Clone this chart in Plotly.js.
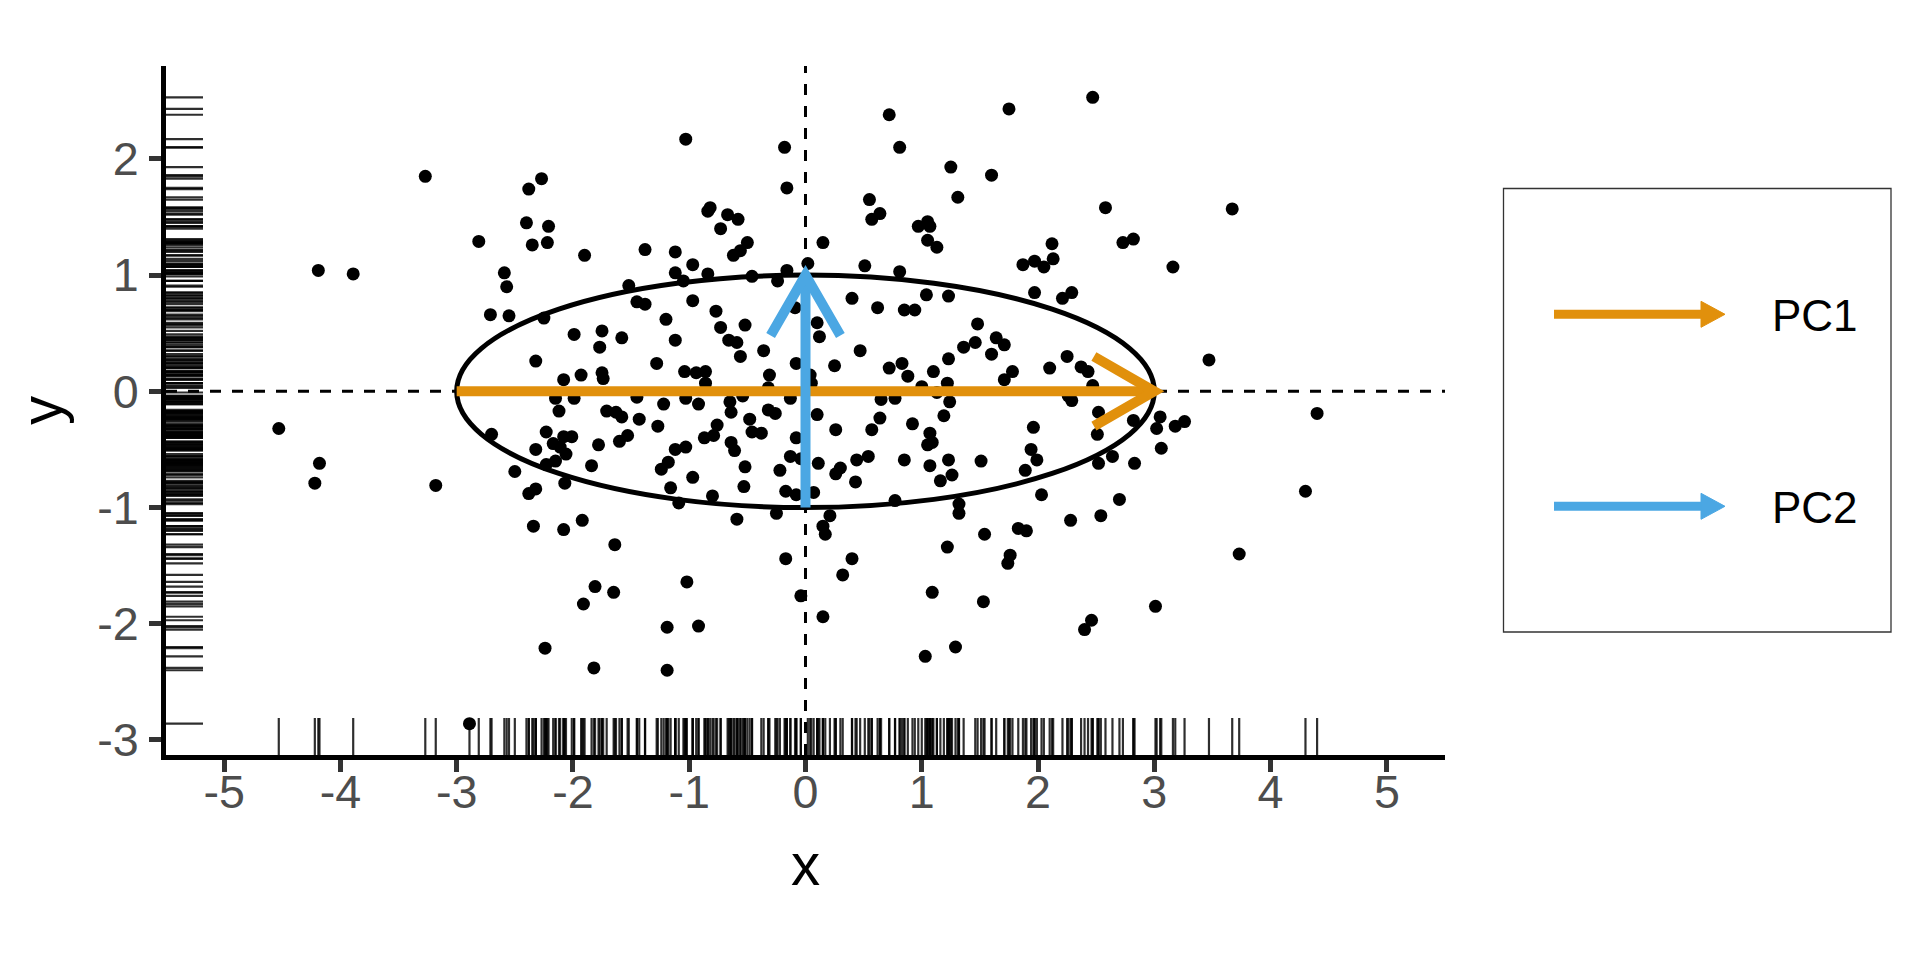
<!DOCTYPE html>
<html>
<head>
<meta charset="utf-8">
<script src="https://cdn.plot.ly/plotly-3.0.1.min.js"></script>
<style>
html,body{margin:0;padding:0;background:#ffffff;}
#chart{width:1920px;height:960px;}
</style>
</head>
<body>
<div id="chart"></div>
<script>
// ---------- data ----------
const pointX = [
  -2.81,-2.35,-2.22,-1.90,-1.38,-1.12,-0.50,-0.56,-0.62,-2.59,
  -2.57,-0.97,-1.12,-0.84,-1.05,-0.46,-0.16,-0.24,0.02,-1.52,
  -1.45,-1.38,-0.97,-2.71,-2.55,-2.25,-1.20,-0.77,-0.09,-0.73,
  -0.52,-1.99,-1.75,-1.58,-1.77,-1.12,-0.66,-0.59,0.10,0.12,
  -0.36,-0.56,-2.32,-1.28,-0.08,-2.08,-1.93,-1.75,-1.74,-1.04,
  -0.94,-0.86,-0.86,-0.31,0.04,0.05,-0.32,-2.15,-1.99,-1.45,
  -1.22,-1.03,-0.92,-0.65,-0.54,-0.13,-2.12,-1.71,-1.63,-1.58,
  -1.43,-1.27,-0.64,-0.48,-0.32,-0.26,0.10,-2.70,-2.23,-2.08,
  -2.01,-2.17,-2.11,-2.32,-2.06,-1.78,-1.60,-1.53,-0.87,-0.79,
  -0.76,-0.64,-0.61,-0.46,-0.38,-0.08,-1.12,-1.03,-0.13,-0.04,
  0.11,-2.50,-2.23,-2.15,-1.84,-1.24,-1.18,-0.52,-0.22,-0.97,
  -3.18,-2.38,-2.32,-2.07,-1.16,-0.53,-0.17,0.07,-0.08,-0.80,
  -1.09,-0.25,-0.59,0.15,0.17,-2.34,-2.08,-1.92,-1.64,-0.17,
  0.15,1.05,1.13,0.51,0.81,1.87,1.97,2.05,2.13,2.12,
  2.73,2.82,3.16,0.40,0.62,0.85,0.94,1.04,1.23,1.97,
  2.21,2.29,1.48,1.64,1.71,1.46,1.36,1.60,0.47,0.25,
  0.72,0.83,0.88,1.10,1.23,1.22,1.00,1.13,0.65,0.77,
  1.24,1.78,1.71,2.10,2.25,2.37,2.43,2.47,2.26,2.29,
  3.47,0.26,0.64,0.57,0.92,1.19,1.07,1.09,1.05,1.96,
  2.52,2.51,2.82,3.05,3.02,3.18,3.26,3.06,0.26,0.30,
  0.44,0.54,0.43,0.85,1.07,1.23,1.26,1.16,1.51,1.94,
  1.99,1.89,2.52,2.64,2.83,2.03,2.70,0.77,1.32,1.32,
  0.21,2.28,2.54,1.54,1.83,1.90,1.22,0.40,1.76,1.74,
  -1.03,-0.18,-0.16,0.72,0.81,1.25,1.60,1.31,1.75,0.55,
  0.64,0.57,-0.84,-0.82,-0.67,-0.58,-0.73,0.97,1.05,1.07,
  -3.27,-2.27,-2.38,-2.40,-2.21,-4.19,-3.89,2.47,2.58,3.67,
  -4.53,-4.18,-4.22,-1.91,-2.24,-1.82,-2.89,-1.81,-1.65,-1.02,
  -1.19,-0.92,-1.19,-0.04,0.15,0.32,1.09,1.53,1.29,1.03,
  4.40,4.30,3.73,3.01,2.46,2.40
];
const pointY = [
  1.29,1.26,1.28,1.17,1.22,1.20,1.28,1.21,1.17,1.02,
  0.90,1.09,1.02,1.01,0.95,0.99,1.04,0.95,1.10,0.91,
  0.77,0.75,0.78,0.66,0.65,0.63,0.62,0.69,0.72,0.55,
  0.57,0.49,0.52,0.46,0.38,0.44,0.44,0.42,0.59,0.47,
  0.35,0.30,0.26,0.24,0.24,0.10,0.14,0.16,0.11,0.17,
  0.16,0.17,0.07,0.14,0.14,0.07,0.03,-0.06,-0.06,-0.05,
  -0.11,-0.06,-0.11,-0.09,-0.04,-0.06,-0.17,-0.17,-0.18,-0.22,
  -0.24,-0.30,-0.18,-0.24,-0.16,-0.19,-0.20,-0.37,-0.35,-0.39,
  -0.39,-0.45,-0.48,-0.50,-0.54,-0.46,-0.43,-0.38,-0.40,-0.38,
  -0.29,-0.44,-0.51,-0.35,-0.36,-0.40,-0.50,-0.48,-0.56,-0.58,
  -0.62,-0.69,-0.63,-0.60,-0.64,-0.67,-0.61,-0.65,-0.68,-0.74,
  -0.81,-0.88,-0.84,-0.79,-0.83,-0.82,-0.86,-0.87,-0.89,-0.90,
  -0.96,-1.05,-1.10,-1.16,-1.23,-1.16,-1.19,-1.11,-1.32,-1.44,
  1.28,1.30,1.24,1.08,1.03,1.09,1.12,1.07,1.14,1.27,
  1.28,1.31,1.07,0.80,0.72,0.70,0.70,0.83,0.82,0.85,
  0.80,0.85,0.58,0.46,0.40,0.42,0.38,0.32,0.35,0.22,
  0.20,0.24,0.13,0.17,0.28,0.07,0.04,-0.01,-0.07,-0.06,
  -0.09,0.17,0.10,0.20,0.30,0.21,0.17,0.05,-0.04,-0.08,
  0.27,-0.33,-0.23,-0.33,-0.28,-0.21,-0.36,-0.44,-0.46,-0.31,
  -0.18,-0.37,-0.25,-0.22,-0.32,-0.30,-0.26,-0.49,-0.71,-0.66,
  -0.59,-0.56,-0.78,-0.59,-0.64,-0.59,-0.72,-0.77,-0.60,-0.50,
  -0.59,-0.68,-0.62,-0.56,-0.62,-0.89,-0.93,-0.94,-0.97,-1.05,
  -1.07,-1.11,-1.07,-1.23,-1.18,-1.20,-1.34,-1.44,-1.41,-1.48,
  2.17,2.10,1.75,2.38,2.10,1.93,1.86,1.67,2.43,1.65,
  1.53,1.48,1.55,1.58,1.52,1.48,1.40,1.42,1.46,1.42,
  1.85,1.83,1.74,1.45,1.42,1.04,1.01,2.53,1.58,1.57,
  -0.32,-0.62,-0.79,-1.83,-2.21,-2.38,-2.86,-1.68,-1.73,-1.64,
  -2.03,-2.02,-2.40,-1.76,-1.94,-1.58,-1.73,-1.81,-2.20,-2.28,
  -0.19,-0.86,-1.40,-1.85,-1.97,-2.05
];

const pcNames  = ['PC1', 'PC2'];
const pcStartX = [-3, 0];
const pcStartY = [0, -1];
const pcEndX   = [3, 0];
const pcEndY   = [0, 1];

const xLimits   = [-5, 5];
const xTickVals = [-5, -4, -3, -2, -1, 0, 1, 2, 3, 4, 5];
const xTickText = ['-5', '-4', '-3', '-2', '-1', '0', '1', '2', '3', '4', '5'];
const yTickVals = [-3, -2, -1, 0, 1, 2];
const yTickText = ['-3', '-2', '-1', '0', '1', '2'];

// ---------- styles ----------
const pcColors = ['#E1900C', '#4BA7E3'];
const FONT = 'Liberation Sans, Arial, Helvetica, sans-serif';
const W = 1920, H = 960;
const M = {l: 166, r: 475, t: 66, b: 205};
const plotW = W - M.l - M.r, plotH = H - M.t - M.b;
const fx = X => (X - M.l) / plotW;          // pixel -> paper (x)
const fy = Y => (H - M.b - Y) / plotH;      // pixel -> paper (y)

const expand = (lo, hi) => { const d = (hi - lo) * 0.05; return [lo - d, hi + d]; };
const xRange = expand(xLimits[0], xLimits[1]);
const yRange = expand(Math.min(...pointY), Math.max(...pointY));

// rugs (one polyline trace each, with null breaks)
const rugLen = 37;
const rugFx = rugLen / plotW, rugFy = rugLen / plotH;
const bx = [], by = [], lx = [], ly = [];
pointX.forEach(v => { bx.push(v, v, null); by.push(0, rugFy, null); });
pointY.forEach(v => { ly.push(v, v, null); lx.push(0, rugFx, null); });

const rugStyle = {color: 'rgba(0,0,0,0.82)', width: 2.2};
const traces = [
  {type: 'scatter', mode: 'markers', x: pointX, y: pointY, xaxis: 'x', yaxis: 'y',
   marker: {color: '#000000', size: 13, line: {width: 0}}, showlegend: false, hoverinfo: 'x+y'},
  {type: 'scatter', mode: 'lines', x: bx, y: by, xaxis: 'x', yaxis: 'y2',
   line: rugStyle, showlegend: false, hoverinfo: 'skip', connectgaps: false},
  {type: 'scatter', mode: 'lines', x: lx, y: ly, xaxis: 'x2', yaxis: 'y',
   line: rugStyle, showlegend: false, hoverinfo: 'skip', connectgaps: false}
];

// ---------- shapes ----------
const shapes = [];
const dashLine = {color: '#000000', width: 3, dash: '11px,11px'};
shapes.push({type: 'line', layer: 'below', xref: 'paper', yref: 'y', x0: 0, x1: 1, y0: 0, y1: 0, line: dashLine});
shapes.push({type: 'line', layer: 'below', xref: 'x', yref: 'paper', x0: 0, x1: 0, y0: 0, y1: 1, line: dashLine});

// ellipse spanned by the two PC vectors
const semiA = Math.hypot(pcEndX[0], pcEndY[0]);
const semiB = Math.hypot(pcEndX[1], pcEndY[1]);
shapes.push({type: 'circle', layer: 'above', xref: 'x', yref: 'y',
  x0: -semiA, x1: semiA, y0: -semiB, y1: semiB,
  line: {color: '#000000', width: 5}, fillcolor: 'rgba(0,0,0,0)'});

// arrows
const headLen = 0.6, headAng = Math.PI / 6, arrowW = 10;
pcNames.forEach((nm, i) => {
  const sx = pcStartX[i], sy = pcStartY[i], ex = pcEndX[i], ey = pcEndY[i];
  const a = Math.atan2(ey - sy, ex - sx);
  const h1x = ex - headLen * Math.cos(a - headAng), h1y = ey - headLen * Math.sin(a - headAng);
  const h2x = ex - headLen * Math.cos(a + headAng), h2y = ey - headLen * Math.sin(a + headAng);
  shapes.push({type: 'line', layer: 'above', xref: 'x', yref: 'y', x0: sx, y0: sy, x1: ex, y1: ey,
    line: {color: pcColors[i], width: arrowW}});
  shapes.push({type: 'path', layer: 'above', xref: 'x', yref: 'y',
    path: `M ${h1x},${h1y} L ${ex},${ey} L ${h2x},${h2y}`,
    line: {color: pcColors[i], width: arrowW}, fillcolor: 'rgba(0,0,0,0)'});
});

// custom legend (box, arrow keys, labels)
shapes.push({type: 'rect', layer: 'above', xref: 'paper', yref: 'paper',
  x0: fx(1503.5), x1: fx(1891), y0: fy(632), y1: fy(188.5),
  line: {color: '#333333', width: 1.3}, fillcolor: 'rgba(0,0,0,0)'});
const legendYs = [314.3, 506.3];
const annotations = [];
pcNames.forEach((nm, i) => {
  const Y = legendYs[i];
  shapes.push({type: 'line', layer: 'above', xref: 'paper', yref: 'paper',
    x0: fx(1554), x1: fx(1708), y0: fy(Y), y1: fy(Y), line: {color: pcColors[i], width: 9}});
  shapes.push({type: 'path', layer: 'above', xref: 'paper', yref: 'paper',
    path: `M ${fx(1725)},${fy(Y)} L ${fx(1701)},${fy(Y - 13)} L ${fx(1701)},${fy(Y + 13)} Z`,
    line: {color: pcColors[i], width: 1}, fillcolor: pcColors[i]});
  annotations.push({xref: 'paper', yref: 'paper', x: fx(1770), y: fy(Y + 1.5),
    xanchor: 'left', yanchor: 'middle', showarrow: false, text: nm,
    font: {family: FONT, size: 44, color: '#000000'}});
});

// ---------- layout ----------
const axisCommon = {
  showgrid: false, zeroline: false, showline: true, linecolor: '#000000', linewidth: 5,
  ticks: 'outside', ticklen: 12, tickwidth: 5, tickcolor: '#333333',
  tickfont: {family: FONT, size: 46.7, color: '#4D4D4D'}, fixedrange: true
};
const layout = {
  width: W, height: H, autosize: false,
  margin: M, paper_bgcolor: '#ffffff', plot_bgcolor: '#ffffff',
  showlegend: false,
  font: {family: FONT, color: '#000000'},
  xaxis: Object.assign({}, axisCommon, {
    range: xRange, tickmode: 'array', tickvals: xTickVals, ticktext: xTickText,
    ticklabelstandoff: -20,
    title: {text: 'x', font: {family: FONT, size: 58.3, color: '#000000'}, standoff: 29}
  }),
  yaxis: Object.assign({}, axisCommon, {
    range: yRange, tickmode: 'array', tickvals: yTickVals, ticktext: yTickText,
    ticklabelstandoff: 1,
    title: {text: 'y', font: {family: FONT, size: 58.3, color: '#000000'}, standoff: 17}
  }),
  xaxis2: {overlaying: 'x', anchor: 'y', range: [0, 1], visible: false, fixedrange: true},
  yaxis2: {overlaying: 'y', anchor: 'x', range: [0, 1], visible: false, fixedrange: true},
  shapes: shapes,
  annotations: annotations
};

Plotly.newPlot('chart', traces, layout, {staticPlot: true, displayModeBar: false});
</script>
</body>
</html>
